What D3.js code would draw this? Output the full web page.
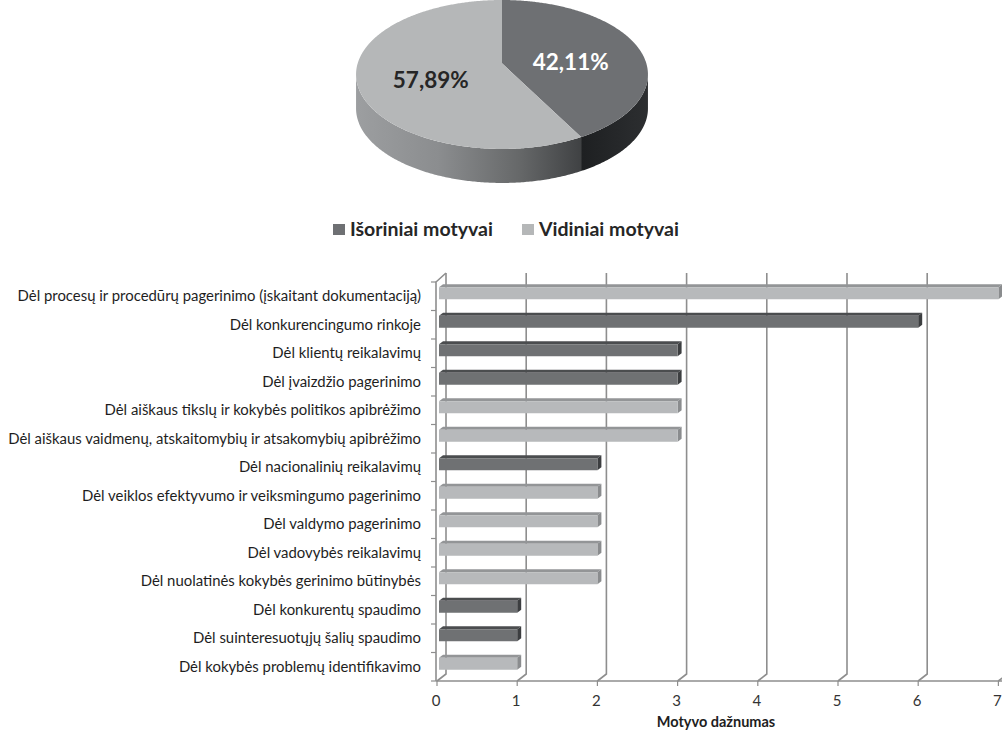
<!DOCTYPE html>
<html>
<head>
<meta charset="utf-8">
<script src="https://cdn.jsdelivr.net/npm/d3@7"></script>
<style>
  html, body { margin: 0; padding: 0; background: #fff; }
  svg { display: block; font-family: Lato, "Open Sans", sans-serif; }
</style>
</head>
<body>
<script>
// ---- data ----
const pieLabels = ["Išoriniai motyvai", "Vidiniai motyvai"];
const pieValues = [42.11, 57.89];
const pieTexts = ["42,11%", "57,89%"];

const categories = [
  "Dėl procesų ir procedūrų pagerinimo (įskaitant dokumentaciją)",
  "Dėl konkurencingumo rinkoje",
  "Dėl klientų reikalavimų",
  "Dėl įvaizdžio pagerinimo",
  "Dėl aiškaus tikslų ir kokybės politikos apibrėžimo",
  "Dėl aiškaus vaidmenų, atskaitomybių ir atsakomybių apibrėžimo",
  "Dėl nacionalinių reikalavimų",
  "Dėl veiklos efektyvumo ir veiksmingumo pagerinimo",
  "Dėl valdymo pagerinimo",
  "Dėl vadovybės reikalavimų",
  "Dėl nuolatinės kokybės gerinimo būtinybės",
  "Dėl konkurentų spaudimo",
  "Dėl suinteresuotųjų šalių spaudimo",
  "Dėl kokybės problemų identifikavimo"
];
const values = [7, 6, 3, 3, 3, 3, 2, 2, 2, 2, 2, 1, 1, 1];
// motive group of each category: index into pieLabels
const groups = [1, 0, 0, 0, 1, 1, 0, 1, 1, 1, 1, 0, 0, 1];
const xTicks = [0, 1, 2, 3, 4, 5, 6, 7];
const xTitle = "Motyvo dažnumas";

// ---- styles ----
const topFill = ["#6e7073", "#b5b7b8"];
const barFront = ["#6f7173", "#b7b9bb"];
const barTop = ["#4b4d4f", "#939597"];
const barSide = ["#3c3e40", "#8a8c8e"];
const gridColor = "#8e8e8e";

const W = 1002, H = 733;
const svg = d3.select("body").append("svg").attr("width", W).attr("height", H);
const defs = svg.append("defs");

// ---- 3D pie ----
const P = { cx: 502, cy: 63.3, rx: 144.3, ry: 72.8, k: 0.15, depth: 34 };
function project(theta, r, drop) {
  const u = r * Math.sin(theta), v = -r * Math.cos(theta);
  const s = 1 / (1 - P.k * v);
  return [P.cx + P.rx * u * s, P.cy + P.ry * v * s + (drop || 0)];
}
function sample(a, b) {
  const n = Math.max(2, Math.ceil(Math.abs(b - a) / 0.01));
  return d3.range(n + 1).map(i => a + (b - a) * i / n);
}
const line = d3.line();

const arcs = d3.pie().sort(null).startAngle(0).endAngle(2 * Math.PI)(pieValues);

// side gradients
const gLight = defs.append("linearGradient").attr("id", "sideLight")
  .attr("gradientUnits", "userSpaceOnUse")
  .attr("x1", P.cx - P.rx).attr("x2", P.cx + P.rx * 0.6).attr("y1", 0).attr("y2", 0);
[[0, "#9c9ea0"], [0.35, "#8b8d8f"], [0.7, "#666869"], [1, "#3b3d3f"]]
  .forEach(([o, c]) => gLight.append("stop").attr("offset", o).attr("stop-color", c));
const gDark = defs.append("linearGradient").attr("id", "sideDark")
  .attr("gradientUnits", "userSpaceOnUse")
  .attr("x1", P.cx + P.rx * 0.5).attr("x2", P.cx + P.rx).attr("y1", 0).attr("y2", 0);
[[0, "#1c1e20"], [1, "#2c2e30"]]
  .forEach(([o, c]) => gDark.append("stop").attr("offset", o).attr("stop-color", c));
const sideFill = ["url(#sideDark)", "url(#sideLight)"];

// visible side runs between the silhouette angles
const silA = Math.acos(-P.k), silB = 2 * Math.PI - Math.acos(-P.k);
const pieG = svg.append("g");
arcs.forEach((a, i) => {
  const s0 = Math.max(a.startAngle, silA), s1 = Math.min(a.endAngle, silB);
  if (s1 <= s0) return;
  const ts = sample(s0, s1);
  const pts = ts.map(t => project(t, 1, 0))
    .concat(ts.slice().reverse().map(t => project(t, 1, P.depth)));
  pieG.append("path").attr("d", line(pts) + "Z").attr("fill", sideFill[i]);
});
arcs.forEach((a, i) => {
  const pts = [project(0, 0)].concat(sample(a.startAngle, a.endAngle).map(t => project(t, 1)));
  pieG.append("path").attr("d", line(pts) + "Z").attr("fill", topFill[i]);
});
arcs.forEach((a, i) => {
  const mid = (a.startAngle + a.endAngle) / 2;
  const [x, y] = project(mid, 0.5);
  pieG.append("text")
    .attr("x", x).attr("y", y + 8).attr("dy", "0.35em")
    .attr("text-anchor", "middle")
    .attr("font-size", 22.5).attr("font-weight", 700)
    .attr("fill", i === 0 ? "#ffffff" : "#262626")
    .text(pieTexts[i]);
});

// ---- legend ----
const legendX = [333, 522];
const legG = svg.append("g");
pieLabels.forEach((lab, i) => {
  legG.append("rect").attr("x", legendX[i]).attr("y", 224).attr("width", 12).attr("height", 11)
    .attr("fill", topFill[i]);
  legG.append("text").attr("x", legendX[i] + 17).attr("y", 235.5)
    .attr("font-size", 19.5).attr("font-weight", 700).attr("fill", "#262626")
    .text(lab);
});

// ---- 3D bar chart ----
const x = d3.scaleLinear().domain([0, 7]).range([437, 998.4]);
const y = d3.scaleBand().domain(categories).range([282, 681]).paddingInner(0).paddingOuter(0);
const floorY = 681, wallTop = 273, dX = 9, dY = 7;
const barD = 4;

const chart = svg.append("g");

// back wall gridlines with floor kinks
chart.append("g").selectAll("path").data(xTicks).join("path")
  .attr("d", v => line([[x(v) + dX, wallTop], [x(v) + dX, floorY - dY], [x(v), floorY]]))
  .attr("fill", "none").attr("stroke", gridColor).attr("stroke-width", 1.6);

// left axis line and wall edge
chart.append("path")
  .attr("d", line([[x(0) + dX, wallTop], [x(0) - 1, wallTop + dY + 2], [x(0) - 1, floorY]]))
  .attr("fill", "none").attr("stroke", gridColor).attr("stroke-width", 1.6);
// floor front edge
chart.append("line").attr("x1", x(0) - 1).attr("x2", W).attr("y1", floorY).attr("y2", floorY)
  .attr("stroke", gridColor).attr("stroke-width", 1.6);

// category ticks on the left axis
const bounds = categories.map(c => y(c)).concat([floorY]);
chart.append("g").selectAll("line").data(bounds).join("line")
  .attr("x1", x(0) - 6).attr("x2", x(0) - 1).attr("y1", d => d).attr("y2", d => d)
  .attr("stroke", gridColor).attr("stroke-width", 1.2);
// value ticks on the floor edge
chart.append("g").selectAll("line").data(xTicks).join("line")
  .attr("x1", d => x(d)).attr("x2", d => x(d)).attr("y1", floorY).attr("y2", floorY + 5)
  .attr("stroke", gridColor).attr("stroke-width", 1.2);

// bars
const rows = categories.map((c, i) => ({ c, v: values[i], g: groups[i] }));
const barG = chart.append("g");
rows.forEach(r => {
  const cy = y(r.c) + y.bandwidth() / 2;
  const x0 = x(0) + 2, x1 = x(r.v);
  const t = cy - 9, b = cy + 3;
  barG.append("path")
    .attr("d", line([[x0, t], [x0 + barD, t - 3], [x1 + barD, t - 3], [x1, t]]) + "Z")
    .attr("fill", barTop[r.g]);
  barG.append("path")
    .attr("d", line([[x1, t], [x1 + barD, t - 3], [x1 + barD, b - 3], [x1, b]]) + "Z")
    .attr("fill", barSide[r.g]);
  barG.append("rect").attr("x", x0).attr("y", t).attr("width", x1 - x0).attr("height", b - t)
    .attr("fill", barFront[r.g]);
});

// category labels
chart.append("g").selectAll("text").data(categories).join("text")
  .attr("x", 421).attr("y", d => y(d) + y.bandwidth() / 2).attr("dy", "0.35em")
  .attr("text-anchor", "end").attr("font-size", 14.9).attr("fill", "#1e1e1e")
  .text(d => d);

// value tick labels
chart.append("g").selectAll("text").data(xTicks).join("text")
  .attr("x", d => x(d) - 1).attr("y", 705.5)
  .attr("text-anchor", "middle").attr("font-size", 15).attr("fill", "#333")
  .text(d => d);

// axis title
chart.append("text").attr("x", 716).attr("y", 727).attr("text-anchor", "middle")
  .attr("font-size", 14.5).attr("font-weight", 700).attr("fill", "#1e1e1e")
  .text(xTitle);
</script>
</body>
</html>
